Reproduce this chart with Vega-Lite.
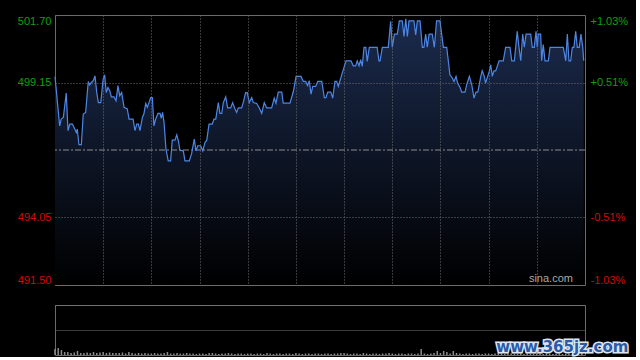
{
"$schema": "https://vega.github.io/schema/vega-lite/v6.json",
"background": "#000000",
"padding": {"left": 4, "top": 14, "right": 0, "bottom": 0},
"config": {"view": {"stroke": "#6a6a6a", "strokeWidth": 1}, "font": "Liberation Sans", "axis": {"labelFont": "Liberation Sans", "labelFontSize": 11, "title": null}},
"spacing": 18,
"datasets": {
"px": [
{"t":0,"p":499.37},{"t":2.9,"p":497.51},{"t":3.9,"p":497.77},{"t":5.2,"p":497.83},{"t":7.0,"p":498.75},{"t":8.1,"p":497.33},{"t":9.2,"p":497.58},{"t":10.8,"p":497.58},{"t":12.3,"p":497.39},{"t":13.3,"p":497.26},{"t":13.9,"p":497.39},{"t":14.9,"p":496.80},{"t":16.4,"p":496.80},{"t":17.6,"p":497.96},{"t":19.1,"p":498.02},{"t":20.7,"p":499.19},{"t":21.6,"p":499.06},{"t":22.6,"p":499.15},{"t":23.8,"p":499.22},{"t":24.9,"p":499.40},{"t":26.0,"p":498.77},{"t":27.0,"p":498.39},{"t":28.5,"p":498.39},{"t":29.9,"p":499.25},{"t":30.9,"p":499.44},{"t":31.9,"p":498.77},{"t":33.0,"p":498.96},{"t":34.1,"p":498.84},{"t":35.1,"p":498.61},{"t":36.7,"p":498.61},{"t":38.0,"p":498.46},{"t":39.2,"p":499.03},{"t":40.3,"p":498.65},{"t":41.5,"p":498.77},{"t":43.0,"p":498.21},{"t":45.0,"p":498.15},{"t":46.1,"p":497.77},{"t":48.6,"p":497.77},{"t":49.8,"p":497.33},{"t":50.9,"p":497.58},{"t":51.9,"p":497.58},{"t":52.9,"p":497.33},{"t":54.4,"p":497.83},{"t":55.4,"p":497.98},{"t":56.5,"p":498.36},{"t":57.5,"p":498.21},{"t":58.5,"p":498.39},{"t":59.6,"p":498.58},{"t":60.6,"p":498.58},{"t":61.6,"p":497.51},{"t":62.7,"p":497.77},{"t":64.1,"p":497.98},{"t":65.4,"p":497.98},{"t":66.2,"p":497.80},{"t":67.0,"p":498.02},{"t":67.9,"p":497.64},{"t":69.1,"p":496.63},{"t":70.5,"p":496.19},{"t":72.0,"p":496.19},{"t":73.0,"p":496.97},{"t":74.7,"p":496.97},{"t":75.8,"p":497.17},{"t":76.8,"p":496.95},{"t":77.8,"p":496.59},{"t":79.9,"p":496.57},{"t":80.9,"p":496.19},{"t":83.6,"p":496.19},{"t":85.1,"p":496.47},{"t":86.7,"p":497.01},{"t":87.8,"p":496.57},{"t":88.9,"p":496.76},{"t":90.7,"p":496.76},{"t":92.0,"p":496.57},{"t":93.4,"p":496.88},{"t":94.5,"p":496.97},{"t":95.9,"p":497.58},{"t":97.9,"p":497.58},{"t":99.0,"p":497.77},{"t":100.1,"p":497.77},{"t":101.7,"p":498.39},{"t":102.7,"p":497.98},{"t":103.8,"p":497.98},{"t":104.8,"p":498.39},{"t":106.3,"p":498.61},{"t":107.5,"p":498.19},{"t":109.4,"p":498.19},{"t":110.6,"p":498.39},{"t":112.1,"p":498.15},{"t":113.1,"p":498.02},{"t":114.1,"p":498.19},{"t":116.2,"p":498.19},{"t":117.2,"p":498.39},{"t":118.7,"p":498.77},{"t":119.7,"p":498.77},{"t":121.0,"p":498.39},{"t":122.5,"p":498.58},{"t":123.5,"p":498.39},{"t":125.6,"p":498.36},{"t":127.2,"p":498.19},{"t":128.7,"p":497.98},{"t":130.3,"p":498.39},{"t":131.8,"p":498.19},{"t":134.9,"p":498.19},{"t":136.5,"p":498.56},{"t":137.6,"p":498.37},{"t":139.0,"p":498.79},{"t":141.2,"p":498.79},{"t":142.1,"p":498.37},{"t":146.3,"p":498.37},{"t":148.4,"p":498.81},{"t":150.1,"p":499.38},{"t":153.2,"p":499.38},{"t":154.6,"p":499.19},{"t":156.1,"p":499.19},{"t":157.3,"p":499.03},{"t":158.3,"p":499.22},{"t":159.4,"p":498.71},{"t":160.5,"p":499.0},{"t":162.3,"p":499.0},{"t":163.6,"p":499.19},{"t":166.1,"p":499.19},{"t":167.7,"p":498.58},{"t":168.7,"p":498.58},{"t":169.8,"p":498.79},{"t":171.7,"p":498.79},{"t":172.9,"p":498.56},{"t":174.3,"p":499.19},{"t":175.4,"p":499.19},{"t":176.4,"p":499.0},{"t":178.5,"p":499.44},{"t":181.2,"p":499.97},{"t":184.3,"p":499.97},{"t":185.7,"p":499.78},{"t":187.2,"p":499.78},{"t":188.2,"p":499.97},{"t":189.3,"p":499.78},{"t":190.3,"p":500.01},{"t":191.3,"p":499.76},{"t":192.4,"p":500.48},{"t":193.5,"p":500.48},{"t":194.4,"p":499.95},{"t":195.7,"p":500.48},{"t":200.6,"p":500.48},{"t":201.7,"p":499.97},{"t":202.4,"p":499.97},{"t":203.8,"p":500.48},{"t":207.5,"p":500.48},{"t":209.0,"p":501.46},{"t":210.0,"p":500.48},{"t":211.3,"p":500.98},{"t":213.1,"p":500.98},{"t":214.4,"p":501.48},{"t":216.2,"p":501.48},{"t":217.3,"p":500.89},{"t":218.4,"p":501.56},{"t":219.4,"p":500.89},{"t":220.4,"p":501.48},{"t":223.5,"p":501.48},{"t":224.6,"p":500.95},{"t":225.6,"p":501.48},{"t":227.3,"p":501.48},{"t":228.7,"p":500.48},{"t":229.7,"p":500.48},{"t":230.8,"p":500.98},{"t":231.8,"p":500.48},{"t":232.9,"p":500.98},{"t":234.9,"p":500.98},{"t":236.2,"p":500.48},{"t":237.6,"p":501.48},{"t":239.7,"p":501.48},{"t":241.8,"p":500.48},{"t":243.9,"p":500.48},{"t":245.9,"p":499.44},{"t":247.4,"p":499.32},{"t":248.4,"p":499.19},{"t":249.7,"p":499.38},{"t":250.7,"p":499.13},{"t":252.2,"p":498.96},{"t":253.2,"p":498.79},{"t":255.3,"p":498.79},{"t":256.3,"p":499.06},{"t":258.0,"p":499.38},{"t":259.5,"p":499.06},{"t":260.9,"p":498.56},{"t":262.1,"p":498.79},{"t":263.2,"p":498.79},{"t":263.8,"p":498.96},{"t":265.1,"p":499.38},{"t":266.0,"p":499.59},{"t":267.3,"p":499.38},{"t":268.1,"p":499.13},{"t":269.4,"p":499.38},{"t":270.4,"p":499.57},{"t":271.3,"p":499.82},{"t":272.3,"p":499.38},{"t":273.3,"p":499.59},{"t":274.4,"p":499.59},{"t":276.5,"p":499.97},{"t":279.1,"p":499.97},{"t":280.6,"p":500.48},{"t":283.3,"p":500.48},{"t":284.4,"p":499.97},{"t":286.0,"p":499.97},{"t":287.8,"p":501.08},{"t":288.9,"p":500.48},{"t":290.0,"p":499.97},{"t":291.2,"p":500.98},{"t":292.2,"p":500.48},{"t":293.3,"p":500.98},{"t":296.2,"p":500.98},{"t":297.2,"p":500.48},{"t":298.4,"p":500.48},{"t":299.5,"p":501.08},{"t":300.3,"p":500.48},{"t":300.9,"p":500.98},{"t":302.4,"p":500.98},{"t":303.0,"p":499.97},{"t":304.0,"p":500.58},{"t":305.1,"p":499.97},{"t":307.2,"p":499.97},{"t":308.2,"p":500.48},{"t":316.5,"p":500.48},{"t":318.0,"p":499.97},{"t":319.0,"p":500.98},{"t":320.0,"p":499.97},{"t":321.1,"p":499.97},{"t":322.1,"p":500.48},{"t":323.1,"p":500.48},{"t":324.2,"p":501.08},{"t":325.2,"p":500.48},{"t":326.4,"p":500.48},{"t":327.5,"p":500.98},{"t":328.6,"p":500.48},{"t":329.2,"p":499.97}
],
"vol": [
{"t":0,"v":6},{"t":2,"v":7},{"t":4,"v":5},{"t":6,"v":3},{"t":8,"v":3},{"t":10,"v":2},{"t":12,"v":2.5},{"t":14,"v":4},{"t":16,"v":2},{"t":18,"v":2},{"t":20,"v":2.5},{"t":22,"v":2},{"t":24,"v":3},{"t":26,"v":2},{"t":28,"v":2.5},{"t":30,"v":3},{"t":32,"v":2},{"t":34,"v":2.5},{"t":36,"v":2},{"t":38,"v":2},{"t":40,"v":2},{"t":42,"v":2.5},{"t":44,"v":1.5},{"t":46,"v":3},{"t":48,"v":2},{"t":50,"v":1.5},{"t":52,"v":2},{"t":54,"v":1.5},{"t":56,"v":2},{"t":58,"v":1.5},{"t":60,"v":1.5},{"t":62,"v":2},{"t":64,"v":1.5},{"t":66,"v":1.5},{"t":68,"v":2},{"t":70,"v":3},{"t":72,"v":1.5},{"t":74,"v":1.5},{"t":76,"v":2},{"t":78,"v":1.5},{"t":80,"v":1.5},{"t":82,"v":2},{"t":84,"v":1.5},{"t":86,"v":1.5},{"t":88,"v":1},{"t":90,"v":1.5},{"t":92,"v":1.5},{"t":94,"v":1},{"t":96,"v":2},{"t":98,"v":2},{"t":100,"v":1.5},{"t":102,"v":1},{"t":104,"v":1.5},{"t":106,"v":1.5},{"t":108,"v":2},{"t":110,"v":1.5},{"t":112,"v":1},{"t":114,"v":1.5},{"t":116,"v":1.5},{"t":118,"v":1},{"t":120,"v":1.5},{"t":122,"v":1.5},{"t":124,"v":1},{"t":126,"v":1.5},{"t":128,"v":1.5},{"t":130,"v":1},{"t":132,"v":2},{"t":134,"v":1.5},{"t":136,"v":1},{"t":138,"v":1.5},{"t":140,"v":1.5},{"t":142,"v":1},{"t":144,"v":1.5},{"t":146,"v":1.5},{"t":148,"v":1},{"t":150,"v":2},{"t":152,"v":1.5},{"t":154,"v":1},{"t":156,"v":1.5},{"t":158,"v":1.5},{"t":160,"v":1},{"t":162,"v":1.5},{"t":164,"v":1.5},{"t":166,"v":1},{"t":168,"v":1.5},{"t":170,"v":1.5},{"t":172,"v":1},{"t":174,"v":1.5},{"t":176,"v":1.5},{"t":178,"v":2},{"t":180,"v":2},{"t":182,"v":1.5},{"t":184,"v":1},{"t":186,"v":1.5},{"t":188,"v":1.5},{"t":190,"v":1},{"t":192,"v":2},{"t":194,"v":1.5},{"t":196,"v":1},{"t":198,"v":1.5},{"t":200,"v":1.5},{"t":202,"v":1},{"t":204,"v":1.5},{"t":206,"v":1.5},{"t":208,"v":2},{"t":210,"v":1.5},{"t":212,"v":1},{"t":214,"v":1.5},{"t":216,"v":1.5},{"t":218,"v":1},{"t":220,"v":1.5},{"t":222,"v":1.5},{"t":224,"v":1},{"t":226,"v":1.5},{"t":228,"v":6},{"t":230,"v":1.5},{"t":232,"v":1},{"t":234,"v":1.5},{"t":236,"v":2},{"t":238,"v":4},{"t":240,"v":2},{"t":242,"v":4},{"t":244,"v":3},{"t":246,"v":1.5},{"t":248,"v":4},{"t":250,"v":2},{"t":252,"v":1.5},{"t":254,"v":1},{"t":256,"v":1.5},{"t":258,"v":1.5},{"t":260,"v":1},{"t":262,"v":1.5},{"t":264,"v":1.5},{"t":266,"v":1},{"t":268,"v":1.5},{"t":270,"v":1.5},{"t":272,"v":1},{"t":274,"v":1.5},{"t":276,"v":2},{"t":278,"v":1.5},{"t":280,"v":1},{"t":282,"v":1.5},{"t":284,"v":1.5},{"t":286,"v":1},{"t":288,"v":1.5},{"t":290,"v":1.5},{"t":292,"v":1},{"t":294,"v":1.5},{"t":296,"v":1.5},{"t":298,"v":1},{"t":300,"v":1.5},{"t":302,"v":1.5},{"t":304,"v":1},{"t":306,"v":1.5},{"t":308,"v":1.5},{"t":310,"v":1},{"t":312,"v":1.5},{"t":314,"v":1.5},{"t":316,"v":1},{"t":318,"v":1.5},{"t":320,"v":1.5},{"t":322,"v":1},{"t":324,"v":1.5},{"t":326,"v":1.5},{"t":328,"v":2}
]
},
"vconcat": [
{
"width": 530, "height": 270,
"layer": [
{"data": {"name": "px"},
 "mark": {"type": "area", "line": false, "color": {"gradient": "linear", "x1": 0, "y1": 0, "x2": 0, "y2": 1, "stops": [{"offset": 0, "color": "#1b2b4d"}, {"offset": 1, "color": "#000000"}]}},
 "encoding": {
  "x": {"field": "t", "type": "quantitative", "scale": {"domain": [0, 330], "nice": false, "zero": false},
        "axis": {"values": [30, 60, 90, 120, 150, 180, 210, 240, 270, 300], "labels": false, "ticks": false, "domain": false, "grid": true, "gridColor": "#707070", "gridDash": [1, 2], "gridWidth": 1, "minExtent": 0, "maxExtent": 0, "zindex": 1}},
  "y": {"field": "p", "type": "quantitative", "scale": {"domain": [491.5, 501.7], "nice": false, "zero": false},
        "axis": {"orient": "left", "values": [491.5, 494.05, 499.15, 501.7], "format": ".2f", "labelFlush": true, "labelFlushOffset": 0, "labelPadding": 4, "ticks": false, "domain": false, "grid": true, "gridColor": "#707070", "gridDash": [1, 2], "labelColor": {"condition": {"test": "datum.value > 496.6", "value": "#0da00d"}, "value": "#d10a0a"}, "minExtent": 50, "maxExtent": 50, "zindex": 1}},
  "y2": {"datum": 491.5}
 }},
{"data": {"values": [{}]},
 "mark": {"type": "rule", "stroke": "#8c8c8c", "strokeDash": [6, 2, 2, 2], "strokeWidth": 1},
 "encoding": {"y": {"datum": 496.6, "type": "quantitative", "scale": {"domain": [491.5, 501.7], "nice": false, "zero": false}, "axis": null}}},
{"data": {"values": [{}]},
 "mark": {"type": "text", "text": "sina.com", "align": "right", "baseline": "alphabetic", "fill": "#a8a8a8", "fontSize": 11, "font": "Liberation Sans"},
 "encoding": {"x": {"datum": 322.5, "type": "quantitative"}, "y": {"datum": 491.6, "type": "quantitative", "scale": {"domain": [491.5, 501.7], "nice": false, "zero": false}, "axis": null}}},
{"data": {"name": "px"},
 "mark": {"type": "line", "stroke": "#4d86e6", "strokeWidth": 1.2},
 "encoding": {
  "x": {"field": "t", "type": "quantitative"},
  "y": {"field": "p", "type": "quantitative", "scale": {"domain": [491.5, 501.7], "nice": false, "zero": false},
        "axis": {"orient": "right", "values": [491.5, 494.05, 499.15, 501.7], "labelExpr": "(datum.value > 496.6 ? '+' : '-') + format(abs(datum.value / 496.6 - 1) * 100, '.2f') + '%'", "labelFlush": true, "labelFlushOffset": 0, "labelPadding": 5, "ticks": false, "domain": false, "grid": false, "labelColor": {"condition": {"test": "datum.value > 496.6", "value": "#0da00d"}, "value": "#d10a0a"}, "minExtent": 50, "maxExtent": 50}}
 }}
],
"resolve": {"scale": {"y": "independent"}, "axis": {"y": "independent"}}
},
{
"width": 530, "height": 50,
"layer": [
{"data": {"name": "vol"},
 "mark": {"type": "rule", "stroke": "#8c8c8c", "strokeWidth": 1.5},
 "encoding": {
  "x": {"field": "t", "type": "quantitative", "scale": {"domain": [0, 330], "nice": false, "zero": false}, "axis": null},
  "y": {"field": "v", "type": "quantitative", "scale": {"domain": [0, 50], "nice": false}, "axis": {"values": [25, 50], "labels": false, "ticks": false, "domain": false, "grid": true, "gridColor": "#7a7a7a", "gridDash": [1, 1], "minExtent": 0, "maxExtent": 0}},
  "y2": {"datum": 0}
 }},
{"data": {"values": [{}]},
 "mark": {"type": "text", "text": "www.365jz.com", "align": "right", "baseline": "alphabetic", "fill": "#dfe6f2", "stroke": "#dfe6f2", "strokeWidth": 3, "fontSize": 15, "fontWeight": "bold", "font": "DejaVu Sans"},
 "encoding": {"x": {"datum": 357, "type": "quantitative"}, "y": {"datum": 3, "type": "quantitative"}}},
{"data": {"values": [{}]},
 "mark": {"type": "text", "text": "www.365jz.com", "align": "right", "baseline": "alphabetic", "fill": "#2b5aa6", "fontSize": 15, "fontWeight": "bold", "font": "DejaVu Sans"},
 "encoding": {"x": {"datum": 357, "type": "quantitative"}, "y": {"datum": 3, "type": "quantitative"}}}
]
}
]
}
